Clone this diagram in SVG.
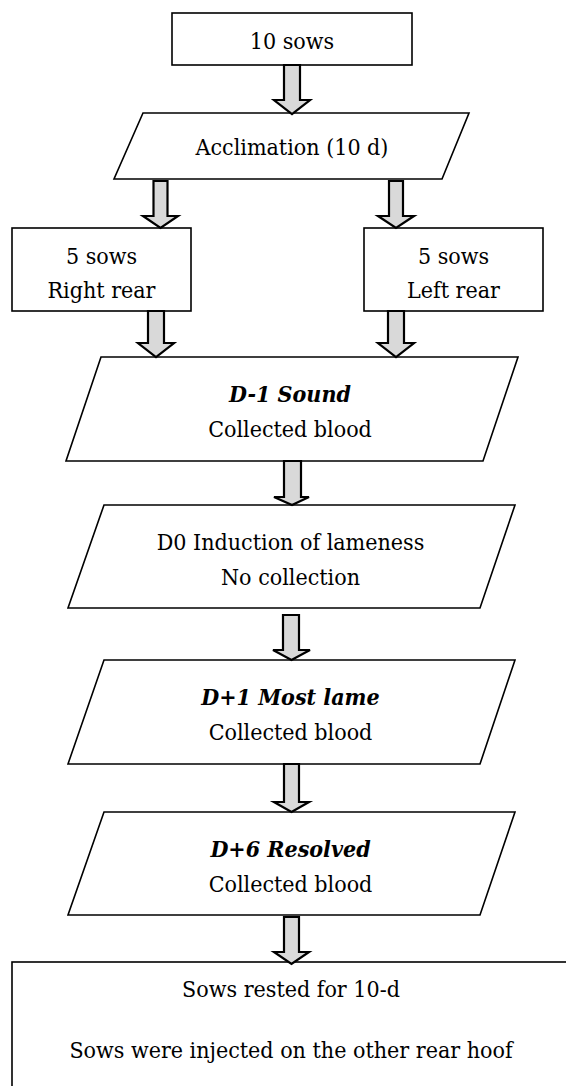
<svg xmlns="http://www.w3.org/2000/svg" width="566" height="1086" viewBox="0 0 566 1086">
<style>
.box{fill:#fff;stroke:#000;stroke-width:1.6}
.arr{fill:#d9d9d9;stroke:#000;stroke-width:2.2;stroke-linejoin:miter}
text{font-family:"DejaVu Serif Condensed","DejaVu Serif","Liberation Serif",serif;font-stretch:condensed;font-size:23px;fill:#000;text-anchor:middle}
.bi{font-weight:bold;font-style:italic}
</style>
<rect width="566" height="1086" fill="#fff"/>
<g id="n1"><rect class="box" x="172" y="13" width="240" height="52"/><text x="292" y="48.5">10 sows</text></g>
<g id="n2"><polygon class="box" points="143,113 469,113 442,179 114,179"/><text x="292" y="154.5">Acclimation (10 d)</text></g>
<g id="n3"><rect class="box" x="12" y="228" width="179" height="83"/><text x="101.5" y="263.5">5 sows</text><text x="101.5" y="297.5">Right rear</text></g>
<g id="n4"><rect class="box" x="364" y="228" width="179" height="83"/><text x="453.5" y="263.5">5 sows</text><text x="453.5" y="297.5">Left rear</text></g>
<g id="n5"><polygon class="box" points="101,357 518,357 483,461 66,461"/><text class="bi" x="290" y="401.5">D-1 Sound</text><text x="290" y="436.5">Collected blood</text></g>
<g id="n6"><polygon class="box" points="104,505 515,505 480,608 68,608"/><text x="290.5" y="549.5">D0 Induction of lameness</text><text x="290.5" y="584.5">No collection</text></g>
<g id="n7"><polygon class="box" points="104,660 515,660 480,764 68,764"/><text class="bi" x="290.5" y="704.5">D+1 Most lame</text><text x="290.5" y="739.5">Collected blood</text></g>
<g id="n8"><polygon class="box" points="104,812 515,812 480,915 68,915"/><text class="bi" x="290.5" y="856.5">D+6 Resolved</text><text x="290.5" y="891.5">Collected blood</text></g>
<g id="n9"><rect class="box" x="12" y="962" width="600" height="200"/><text x="291" y="996.5">Sows rested for 10-d</text><text x="291" y="1057.5">Sows were injected on the other rear hoof</text></g>
<g id="connectors">
<path class="arr" d="M284,65 H300 V100 H310 L292,114 L274,100 H284 Z"/>
<path class="arr" d="M153.5,181 H167.5 V216 H178 L160.5,228 L143,216 H153.5 Z"/>
<path class="arr" d="M389,181 H403 V216 H414 L396,228 L378,216 H389 Z"/>
<path class="arr" d="M148,311 H164 V343 H174 L156,357 L138,343 H148 Z"/>
<path class="arr" d="M388,311 H404 V343 H414 L396,357 L378,343 H388 Z"/>
<path class="arr" d="M284,461 H301 V497 H309 L292,505 L274,497 H284 Z"/>
<path class="arr" d="M283,615 H299 V650 H310 L291.5,660 L273,650 H283 Z"/>
<path class="arr" d="M284,764 H299 V802 H309 L291.5,812 L274,802 H284 Z"/>
<path class="arr" d="M284,917 H299 V952 H309 L291.5,964 L274,952 H284 Z"/>
</g>
</svg>
